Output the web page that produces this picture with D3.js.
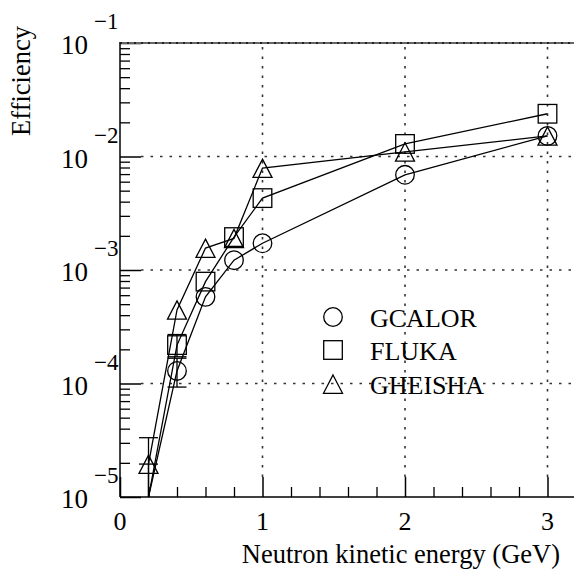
<!DOCTYPE html>
<html>
<head>
<meta charset="utf-8">
<script src="https://cdn.jsdelivr.net/npm/d3@7"></script>
<style>
body { margin: 0; background: #fff; }
text { font-family: "Liberation Serif", "Times New Roman", serif; fill: #000; }
</style>
</head>
<body>
<div id="main"></div>
<script>
// energies (GeV)
var energy = [0.2, 0.4, 0.6, 0.8, 1.0, 2.0, 3.0];

// efficiencies
var gcalor  = [1.0e-5, 1.29e-4, 5.8e-4, 1.22e-3, 1.72e-3, 6.9e-3, 1.52e-2];
var fluka   = [1.0e-5, 2.18e-4, 7.9e-4, 1.95e-3, 4.3e-3, 1.29e-2, 2.38e-2];
var gheisha = [1.95e-5, 4.45e-4, 1.56e-3, 1.9e-3, 7.9e-3, 1.10e-2, 1.52e-2];

// visible error bars [low, high] (null = hidden inside marker)
var gcalorErr  = [null, [9.3e-5, 1.67e-4], null, null, null, null, null];
var flukaErr   = [[1.0e-6, 1.95e-5], [1.72e-4, 2.7e-4], null, null, null, null, null];
var gheishaErr = [[1.0e-6, 3.33e-5], null, null, null, null, null, null];

var seriesNames = ["GCALOR", "FLUKA", "GHEISHA"];

var xMajor = [0, 1, 2, 3];
var xMinor = [0.2, 0.4, 0.6, 0.8, 1.2, 1.4, 1.6, 1.8, 2.2, 2.4, 2.6, 2.8, 3.2];
var yMajor = [1e-5, 1e-4, 1e-3, 1e-2, 1e-1];
var yExp = ["\u22125", "\u22124", "\u22123", "\u22122", "\u22121"];
var xGrid = [1, 2, 3];
var yGrid = [1e-4, 1e-3, 1e-2];

var W = 574, H = 574;
var pLeft = 120, pRight = 576, pTop = 43, pBottom = 497;

var svg = d3.select("#main").append("svg")
	.attr("width", W)
	.attr("height", H);

var x = d3.scaleLinear().domain([0, 3.2]).range([pLeft, pRight]);
var y = d3.scaleLog().domain([1e-5, 1e-1]).range([pBottom, pTop]);

svg.append("clipPath").attr("id", "clip")
	.append("rect")
	.attr("x", pLeft).attr("y", pTop)
	.attr("width", pRight - pLeft).attr("height", pBottom - pTop);

// grid (dotted)
var grid = svg.append("g").attr("stroke", "#333").attr("stroke-width", 1.6)
	.attr("stroke-dasharray", "2.5,7");
grid.selectAll(".gx").data(xGrid).enter().append("line")
	.attr("x1", d => x(d)).attr("x2", d => x(d))
	.attr("y1", pBottom - 20).attr("y2", pTop);
grid.selectAll(".gy").data(yGrid).enter().append("line")
	.attr("x1", pLeft + 21).attr("x2", W)
	.attr("y1", d => y(d)).attr("y2", d => y(d));

// minor y ticks
var yMinor = [];
for (var e = -5; e < -1; e++) {
	for (var m = 2; m <= 9; m++) yMinor.push(m * Math.pow(10, e));
}

svg.append("g")
	.attr("transform", "translate(" + pLeft + ",0)")
	.call(d3.axisLeft(y).tickValues(yMinor).tickSize(-10).tickFormat(""))
	.call(g => g.select(".domain").remove())
	.selectAll("line").attr("stroke-width", 1.3);

svg.append("g")
	.attr("transform", "translate(" + pLeft + ",0)")
	.call(d3.axisLeft(y).tickValues(yMajor).tickSize(-21).tickFormat(""))
	.call(g => g.select(".domain").remove())
	.selectAll("line").attr("stroke-width", 1.5);

svg.append("g")
	.attr("transform", "translate(0," + pBottom + ")")
	.call(d3.axisBottom(x).tickValues(xMinor).tickSize(-10).tickFormat(""))
	.call(g => g.select(".domain").remove())
	.selectAll("line").attr("stroke-width", 1.3);

svg.append("g")
	.attr("transform", "translate(0," + pBottom + ")")
	.call(d3.axisBottom(x).tickValues(xMajor).tickSize(-20).tickFormat(""))
	.call(g => g.select(".domain").remove())
	.selectAll("line").attr("stroke-width", 1.5);

// frame
svg.append("line").attr("x1", pLeft).attr("x2", pLeft).attr("y1", pTop - 1).attr("y2", pBottom)
	.attr("stroke", "#000").attr("stroke-width", 1.5);
svg.append("line").attr("x1", pLeft).attr("x2", W).attr("y1", pBottom).attr("y2", pBottom)
	.attr("stroke", "#000").attr("stroke-width", 1.5);
svg.append("line").attr("x1", pLeft).attr("x2", W).attr("y1", pTop).attr("y2", pTop)
	.attr("stroke", "#666").attr("stroke-width", 2.2);
svg.append("line").attr("x1", pLeft).attr("x2", W).attr("y1", pTop).attr("y2", pTop)
	.attr("stroke", "#222").attr("stroke-width", 2.2).attr("stroke-dasharray", "2,5");

// tick labels
svg.selectAll(".xl").data(xMajor).enter().append("text")
	.attr("x", d => x(d)).attr("y", 530)
	.attr("text-anchor", "middle").attr("font-size", 26)
	.text(d => d);

var yl = svg.selectAll(".yl").data(yMajor).enter().append("g")
	.attr("transform", d => "translate(0," + y(d) + ")");
yl.append("text").attr("x", 88).attr("y", 11)
	.attr("text-anchor", "end").attr("font-size", 27).text("10");
yl.append("text").attr("x", 94).attr("y", -14)
	.attr("font-size", 23).text((d, i) => yExp[i]);

// axis titles
svg.append("text").attr("x", 560).attr("y", 563)
	.attr("text-anchor", "end").attr("font-size", 26.5)
	.text("Neutron kinetic energy (GeV)");
svg.append("text")
	.attr("transform", "translate(30,26) rotate(-90)")
	.attr("text-anchor", "end").attr("font-size", 26.5)
	.text("Efficiency");

// markers
function marker(g, type) {
	if (type == 0) {
		g.append("circle").attr("r", 9.3);
	} else if (type == 1) {
		g.append("rect").attr("x", -9.3).attr("y", -9.3).attr("width", 18.6).attr("height", 18.6);
	} else {
		g.append("path").attr("d", "M0,-9L9.5,9.3L-9.5,9.3Z");
	}
}

var series = [
	{ name: seriesNames[0], vals: gcalor, err: gcalorErr },
	{ name: seriesNames[1], vals: fluka, err: flukaErr },
	{ name: seriesNames[2], vals: gheisha, err: gheishaErr }
];

var plot = svg.append("g").attr("clip-path", "url(#clip)");
var line = d3.line().x((d, i) => x(energy[i])).y(d => y(d));

series.forEach(function(s, si) {
	plot.append("path").datum(s.vals)
		.attr("d", line)
		.attr("fill", "none").attr("stroke", "#000").attr("stroke-width", 1.3);

	// error bars
	s.err.forEach(function(e, i) {
		if (!e) return;
		var cx = x(energy[i]);
		var g = plot.append("g").attr("stroke", "#000").attr("stroke-width", 1.3);
		g.append("line").attr("x1", cx).attr("x2", cx)
			.attr("y1", y(Math.max(e[0], 1e-6))).attr("y2", y(e[1]));
		[e[0], e[1]].forEach(function(v) {
			if (v < 1e-5) return;
			g.append("line").attr("x1", cx - 9.5).attr("x2", cx + 9.5)
				.attr("y1", y(v)).attr("y2", y(v));
		});
	});

	// points on the lower frame edge are not marked
	s.vals.forEach(function(v, i) {
		if (v <= 1e-5) return;
		var g = plot.append("g")
			.attr("transform", "translate(" + x(energy[i]) + "," + y(v) + ")")
			.attr("fill", "none").attr("stroke", "#000").attr("stroke-width", 1.3);
		marker(g, si);
	});
});

// legend
var legY = [317, 350, 384];
series.forEach(function(s, si) {
	var g = svg.append("g")
		.attr("transform", "translate(333," + legY[si] + ")")
		.attr("fill", "none").attr("stroke", "#000").attr("stroke-width", 1.3);
	marker(g, si);
	svg.append("text").attr("x", 370).attr("y", legY[si] + 9.5)
		.attr("font-size", 26).text(s.name);
});
</script>
</body>
</html>
